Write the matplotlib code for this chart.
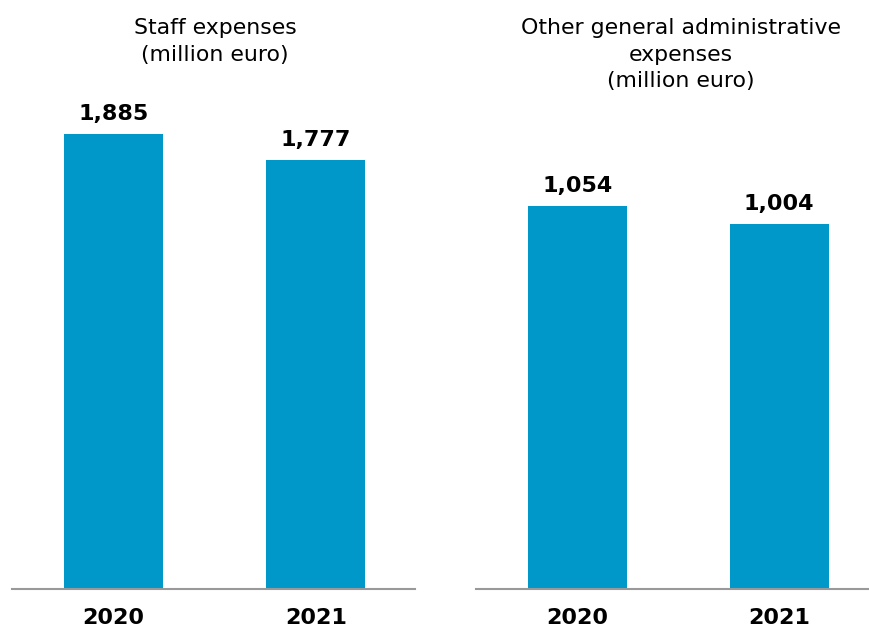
import matplotlib
matplotlib.use("Agg")
import matplotlib.pyplot as plt

years = ["2020", "2021"]
staff_expenses = [1885, 1777]
other_admin_expenses = [1054, 1004]
titles = ["Staff expenses\n(million euro)",
          "Other general administrative\nexpenses\n(million euro)"]

W, H = 869, 627
fig = plt.figure(figsize=(W / 100, H / 100), dpi=100)
plt.rcParams["font.family"] = "DejaVu Sans"

bar_color = "#0097C9"
axis_color = "#999999"

def px_axes(x0, x1, y_base, y_top):
    return fig.add_axes([x0 / W, (H - y_base) / H, (x1 - x0) / W, (y_base - y_top) / H])

panels = [
    (12, 415, staff_expenses, 2026, (-0.5025, 1.49), 215),
    (476, 868, other_admin_expenses, 1346, (-0.5025, 1.44), 681),
]

for (x0, x1, vals, ymax, xlim, tx), title in zip(panels, titles):
    ax = px_axes(x0, x1, 589, 100)
    xs = range(len(years))
    ax.bar(xs, vals, width=0.49, color=bar_color, zorder=2)
    ax.set_xlim(*xlim)
    ax.set_ylim(0, ymax)
    for s in ["top", "left", "right"]:
        ax.spines[s].set_visible(False)
    ax.spines["bottom"].set_color(axis_color)
    ax.spines["bottom"].set_linewidth(1.5)
    ax.spines["bottom"].set_zorder(3)
    ax.set_yticks([])
    ax.set_xticks(list(xs))
    ax.set_xticklabels(years, fontsize=16, fontweight="bold")
    ax.tick_params(axis="x", length=0, pad=14)
    for x, v in zip(xs, vals):
        ax.annotate(f"{v:,}", (x, v), xytext=(0, 10), textcoords="offset points",
                    ha="center", va="baseline", fontsize=16, fontweight="bold")
    fig.text(tx / W, 1 - 18 / H, title, ha="center", va="top",
             fontsize=15.8, linespacing=1.42)

fig.savefig("out.png", dpi=100)
